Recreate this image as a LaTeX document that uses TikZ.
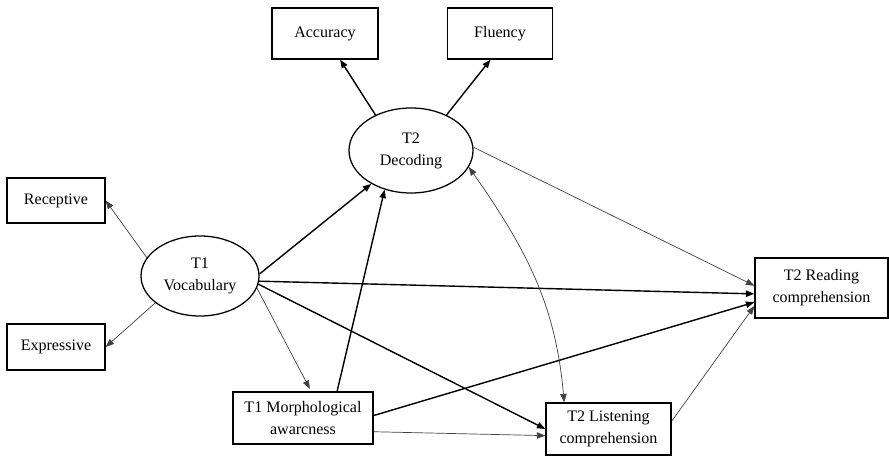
\documentclass[tikz,border=0pt]{standalone}
\usepackage{fontspec}
\setmainfont{Liberation Serif}
\usetikzlibrary{arrows.meta,shapes.geometric}
\begin{document}
\begin{tikzpicture}[x=0.025cm,y=0.025cm,>={Triangle[length=6pt,width=4.5pt]},
    font=\fontsize{11.4}{15.6}\selectfont,
    obs/.style={draw,line width=0.9pt,align=center,inner sep=0pt},
    lat/.style={draw,ellipse,line width=0.9pt,align=center,inner sep=0pt},
    strong/.style={->,line width=1pt},
    weak/.style={->,line width=0.5pt,draw=black!75}]

    \useasboundingbox (0,0) rectangle (889,456);

    % latent variables
    \node[lat,minimum width=3.1cm,minimum height=2.125cm] (dec) at (411,305.5) {T2\\Decoding};
    \node[lat,minimum width=2.95cm,minimum height=2cm] (voc) at (200,180) {T1\\Vocabulary};

    % observed variables
    \node[obs,minimum width=2.65cm,minimum height=1.275cm] (acc) at (325,422.5) {Accuracy};
    \node[obs,minimum width=2.625cm,minimum height=1.275cm] (flu) at (500,422.5) {Fluency};
    \node[obs,minimum width=2.45cm,minimum height=1.125cm] (rec) at (56,255.5) {Receptive};
    \node[obs,minimum width=2.45cm,minimum height=1.15cm] (exp) at (56,109) {Expressive};
    \node[obs,minimum width=3.5cm,minimum height=1.3cm] (mor) at (303,38) {T1 Morphological\\awarcness};
    \node[obs,minimum width=3.125cm,minimum height=1.3cm] (lis) at (608.5,27) {T2 Listening\\comprehension};
    \node[obs,minimum width=3.325cm,minimum height=1.5cm] (rd) at (821.5,168) {T2 Reading\\comprehension};

    % measurement paths
    \draw[weak] (voc.161) -- (rec.east);
    \draw[weak] (voc.211) -- (exp.east);
    \draw[strong] (dec.135) -- (acc.-60);
    \draw[strong] (dec.45) -- (flu.-110);

    % structural paths
    \draw[strong] (voc.2) -- (dec.220);
    \draw[strong] (voc.-5) -- (rd.185);
    \draw[strong] (voc.-8) -- (lis.west);
    \draw[weak,shorten >=2pt] (voc.-12) -- (mor.73);
    \draw[strong] (mor.38) -- (dec.236);
    \draw[strong] (mor.2) -- (rd.192);
    \draw[weak] (mor.-11) -- (lis.186);
    \draw[weak] (dec.3) -- (rd.178);
    \draw[weak] (lis.7) -- (rd.195);

    % covariance
    \draw[weak,<->] (dec.-16) to[out=-55,in=95] (lis.149);
\end{tikzpicture}
\end{document}
